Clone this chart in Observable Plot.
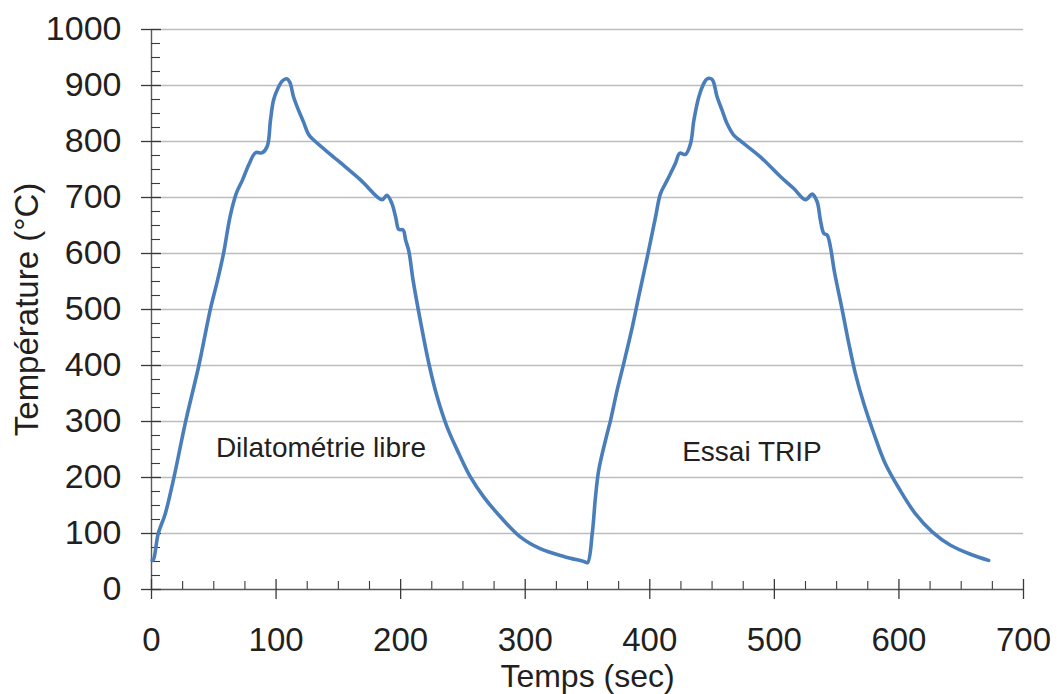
<!DOCTYPE html>
<html>
<head>
<meta charset="utf-8">
<script src="https://cdn.jsdelivr.net/npm/d3@7"></script>
<script src="https://cdn.jsdelivr.net/npm/@observablehq/plot@0.6"></script>
<style>
  html, body { margin: 0; padding: 0; background: #ffffff; }
  #chart svg { display: block; }
</style>
</head>
<body>
<div id="chart"></div>
<script>
// Time (s) and temperature (°C)
const time = [
  0.5, 1.5, 5.4, 11, 17.9, 27.3, 38, 47.4, 53, 58, 63, 68, 73, 78, 83.5, 89, 93, 95.5, 98, 101.5, 105, 108.5, 111, 114, 118, 122, 126, 130,
  149, 168, 185, 189, 193, 196, 198.5, 202, 204, 206.6, 210, 216, 222.6, 229.3, 237.3, 246.7, 256, 266.8, 280, 296, 312, 331, 347,
  350, 353.8, 356.4, 359, 364.5, 368.5, 373.8, 379, 386, 391, 398, 404.6, 408.6, 414, 420.6, 424, 428.7, 432.7, 435.4, 439.4, 443,
  446, 450, 454, 458, 462, 467.5, 472.8, 489, 505, 515.6, 525, 530.4, 534.4, 537, 539.7, 542.4, 545, 548, 554.5, 559.8, 565, 571.8,
  579.8, 589, 601, 613, 626.7, 641.4, 657.4, 672
];
const temperature = [
  52, 53, 100, 135, 199, 299, 400, 502, 552, 602, 665, 707, 731, 758, 780, 780, 792, 838, 874, 895, 908, 912, 906, 880, 856, 835, 813, 803,
  767, 731, 696, 704, 689, 665, 643, 642, 624, 604, 552, 478, 404, 344, 290, 243, 201, 165, 130, 94, 73, 59, 50,
  48, 100, 165, 213, 267, 302, 356, 403, 469, 522, 594, 665, 707, 731, 761, 779, 777, 796, 838, 880, 902,
  912, 911, 880, 856, 832, 811, 801, 772, 737, 716, 696, 706, 692, 659, 636, 633, 612, 570, 499, 439, 386, 332,
  279, 225, 177, 136, 103, 79, 63, 52
];

const xTicks = [0, 100, 200, 300, 400, 500, 600, 700];
const xMinorTicks = [25, 50, 75, 125, 150, 175, 225, 250, 275, 325, 350, 375, 425, 450, 475, 525, 550, 575, 625, 650, 675];
const yTicks = [0, 100, 200, 300, 400, 500, 600, 700, 800, 900, 1000];
const yMinorTicks = [25, 50, 75, 125, 150, 175, 225, 250, 275, 325, 350, 375, 425, 450, 475, 525, 550, 575, 625, 650, 675, 725, 750, 775, 825, 850, 875, 925, 950, 975];
const gridValues = [100, 200, 300, 400, 500, 600, 700, 800, 900, 1000];

const annotationText = ["Dilatométrie libre", "Essai TRIP"];
const annotationTime = [136, 482];
const annotationTemp = [252, 246];

const xTitle = "Temps (sec)";
const yTitle = "Température (°C)";

const curve = time.map((t, i) => ({t, T: temperature[i]}));
const notes = annotationText.map((label, i) => ({label, t: annotationTime[i], T: annotationTemp[i]}));

const axisColor = "#5a5a5a";
const tickColor = "#3a3a3a";
const textColor = "#231f20";

const chart = Plot.plot({
  width: 1057,
  height: 694,
  marginLeft: 151,
  marginRight: 34,
  marginTop: 29,
  marginBottom: 105,
  x: {domain: [0, 700]},
  y: {domain: [0, 1000]},
  style: {fontFamily: "'Liberation Sans', Arial, sans-serif", background: "#ffffff", color: textColor},
  marks: [
    Plot.gridY(gridValues, {stroke: "#bdbdbd", strokeOpacity: 1, strokeWidth: 1.3}),
    Plot.ruleX([0], {stroke: axisColor, strokeWidth: 1.4}),
    Plot.ruleY([0], {stroke: axisColor, strokeWidth: 1.4}),
    // y axis ticks: major crossing, minor inward
    Plot.axisY(yTicks, {tickSize: 20, dx: 10, tickFormat: () => "", label: null, stroke: tickColor, strokeWidth: 1.3}),
    Plot.axisY(yMinorTicks, {tickSize: 9, dx: 9, tickFormat: () => "", label: null, stroke: tickColor, strokeWidth: 1.1}),
    Plot.axisY(yTicks, {tickSize: 0, tickPadding: 30, fontSize: 34, label: null, fill: textColor, tickFormat: d => String(d)}),
    // x axis ticks
    Plot.axisX(xTicks, {tickSize: 20, dy: -10, tickFormat: () => "", label: null, stroke: tickColor, strokeWidth: 1.3}),
    Plot.axisX(xMinorTicks, {tickSize: 8, dy: -8, tickFormat: () => "", label: null, stroke: tickColor, strokeWidth: 1.1}),
    Plot.axisX(xTicks, {tickSize: 0, tickPadding: 38, fontSize: 33, label: null, fill: textColor, tickFormat: d => String(d)}),
    // data
    Plot.line(curve, {x: "t", y: "T", curve: "catmull-rom", stroke: "#4a7ebb", strokeWidth: 3.6, strokeLinejoin: "round", strokeLinecap: "round"}),
    // annotations
    Plot.text(notes, {x: "t", y: "T", text: "label", fontSize: 28, fill: textColor, textAnchor: "middle", lineAnchor: "middle"}),
    // axis titles
    Plot.text([xTitle], {frameAnchor: "bottom", text: d => d, dy: 87.5, fontSize: 32, fill: textColor, textAnchor: "middle", lineAnchor: "middle"}),
    Plot.text([yTitle], {frameAnchor: "left", text: d => d, dx: -124, rotate: -90, fontSize: 33, fill: textColor, textAnchor: "middle", lineAnchor: "middle"})
  ]
});

document.getElementById("chart").appendChild(chart);
</script>
</body>
</html>
